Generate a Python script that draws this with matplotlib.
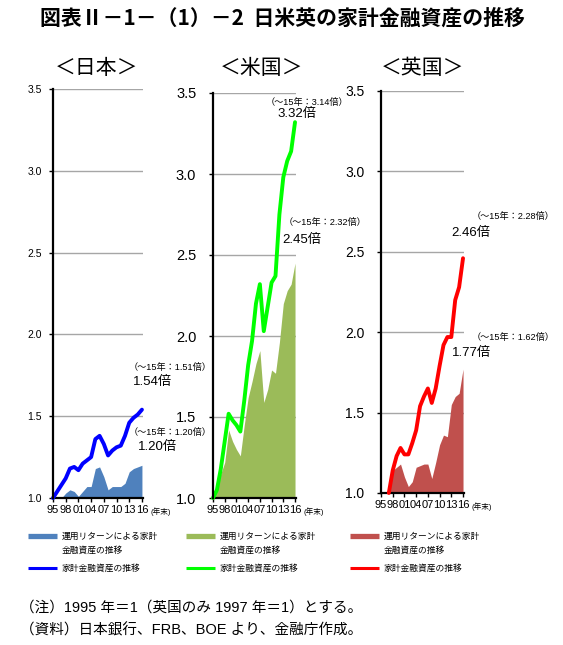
import matplotlib
matplotlib.use("Agg")
import matplotlib.pyplot as plt
from matplotlib.lines import Line2D

plt.rcParams['font.family'] = ['Liberation Sans', 'Noto Sans CJK JP', 'DejaVu Sans']

# ---- data (1995 = 1, UK 1997 = 1) ----
years_jp = list(range(1995, 2017))
jp_total = [1.00, 1.04, 1.08, 1.12, 1.18, 1.19, 1.17, 1.21, 1.23, 1.25, 1.36,
            1.38, 1.33, 1.26, 1.29, 1.31, 1.32, 1.38, 1.46, 1.49, 1.51, 1.54]
jp_return = [1.00, 1.00, 1.00, 1.03, 1.05, 1.04, 1.01, 1.04, 1.07, 1.07, 1.18,
             1.19, 1.13, 1.05, 1.07, 1.07, 1.07, 1.09, 1.16, 1.18, 1.19, 1.20]

years_us = list(range(1995, 2017))
us_total = [1.00, 1.05, 1.18, 1.35, 1.52, 1.48, 1.45, 1.41, 1.60, 1.82, 1.97,
            2.20, 2.32, 2.03, 2.18, 2.33, 2.37, 2.75, 2.98, 3.08, 3.14, 3.32]
us_return = [1.00, 1.06, 1.15, 1.22, 1.42, 1.35, 1.30, 1.26, 1.45, 1.62, 1.72,
             1.83, 1.91, 1.59, 1.67, 1.79, 1.77, 1.96, 2.20, 2.28, 2.32, 2.45]

years_uk = list(range(1997, 2017))
uk_total = [1.00, 1.14, 1.23, 1.28, 1.24, 1.24, 1.31, 1.39, 1.54, 1.60,
            1.65, 1.56, 1.65, 1.79, 1.92, 1.97, 1.97, 2.20, 2.28, 2.46]
uk_return = [1.00, 1.14, 1.16, 1.18, 1.10, 1.04, 1.07, 1.16, 1.17, 1.18,
             1.18, 1.09, 1.19, 1.30, 1.36, 1.35, 1.55, 1.60, 1.62, 1.77]

tick_years = [1995, 1998, 2001, 2004, 2007, 2010, 2013, 2016]
tick_labels = ["95", "98", "01", "04", "07", "10", "13", "16"]

panels = [
    # name, years, total, return, area colour, line colour
    ("＜日本＞", years_jp, jp_total, jp_return, "#4F81BD", "#0000FF"),
    ("＜米国＞", years_us, us_total, us_return, "#9BBB59", "#00FF00"),
    ("＜英国＞", years_uk, uk_total, uk_return, "#C0504D", "#FF0000"),
]

W, H = 563, 645
fig = plt.figure(figsize=(W / 100, H / 100), dpi=100)


def fx(px):
    return px / W


def fy(py):
    return 1 - py / H


# axes boxes in pixels: left, right, top, bottom
boxes = [(53, 143, 89, 498), (213, 296, 93, 498), (381, 464, 91, 493)]
ylab_size = [7.5, 10.5, 10]
ylab_pad = [5, 9, 9]
title_x = [97, 262, 423]

axes = []
for (name, yrs, tot, ret, c_area, c_line), (l, r, t, b), ys, yp, tx in zip(
        panels, boxes, ylab_size, ylab_pad, title_x):
    ax = fig.add_axes([fx(l), fy(b), (r - l) / W, (b - t) / H])
    ax.fill_between(yrs, 1.0, ret, color=c_area, lw=0, zorder=2)
    ax.plot(yrs, tot, color=c_line, lw=2.8, zorder=3, clip_on=False,
            solid_joinstyle="round", solid_capstyle="round")
    ax.set_xlim(1995, 2016.25)
    ax.set_ylim(1.0, 3.5)
    ax.set_yticks([1.0, 1.5, 2.0, 2.5, 3.0, 3.5])
    ax.set_yticklabels(["1.0", "1.5", "2.0", "2.5", "3.0", "3.5"])
    ax.yaxis.grid(True, color="#A6A6A6", lw=1.0, zorder=1)
    ax.set_axisbelow(True)
    ax.set_xticks(tick_years)
    ax.set_xticklabels(tick_labels)
    ax.tick_params(axis="x", length=3, width=1, labelsize=8, pad=2)
    ax.tick_params(axis="y", length=3, width=1, labelsize=ys, pad=yp)
    for s in ("top", "right"):
        ax.spines[s].set_visible(False)
    ax.spines["left"].set_linewidth(1.6)
    ax.spines["bottom"].set_linewidth(1.6)
    ax.spines["left"].set_zorder(4)
    ax.annotate("(年末)", xy=(1, 0), xycoords="axes fraction",
                xytext=(5.5, -10), textcoords="offset points",
                fontsize=5.5, ha="left", va="center")
    fig.text(fx(tx), fy(68), name, ha="center", va="center", fontsize=15,
             family="Noto Sans CJK JP")
    axes.append(ax)

small = 6.6
big = 9.5
ax_jp, ax_us, ax_uk = axes
ax_jp.text(2012.9, 1.80, "（～15年：1.51倍）", fontsize=small, va="center", clip_on=False)
ax_jp.text(2013.9, 1.71, "1.54倍", fontsize=big, va="center", clip_on=False)
ax_jp.text(2012.9, 1.40, "（～15年：1.20倍）", fontsize=small, va="center", clip_on=False)
ax_jp.text(2015.0, 1.31, "1.20倍", fontsize=big, va="center", clip_on=False)

ax_us.text(2008.6, 3.44, "（～15年：3.14倍）", fontsize=small, va="center", clip_on=False)
ax_us.text(2011.4, 3.37, "3.32倍", fontsize=big, va="center", clip_on=False)
ax_us.text(2013.2, 2.70, "（～15年：2.32倍）", fontsize=small, va="center", clip_on=False)
ax_us.text(2012.7, 2.59, "2.45倍", fontsize=big, va="center", clip_on=False)

ax_uk.text(2018.2, 2.72, "（～15年：2.28倍）", fontsize=small, va="center", clip_on=False)
ax_uk.text(2013.1, 2.62, "2.46倍", fontsize=big, va="center", clip_on=False)
ax_uk.text(2018.2, 1.965, "（～15年：1.62倍）", fontsize=small, va="center", clip_on=False)
ax_uk.text(2013.1, 1.87, "1.77倍", fontsize=big, va="center", clip_on=False)

# title
fig.text(fx(40), fy(18), "図表Ⅱ－1－（1）－2  日米英の家計金融資産の推移",
         ha="left", va="center", fontsize=15, family="Noto Sans CJK JP",
         fontweight="bold")

# legends
leg_x = [28, 186, 350]
for (name, yrs, tot, ret, c_area, c_line), lx in zip(panels, leg_x):
    fig.add_artist(Line2D([fx(lx), fx(lx + 29)], [fy(536), fy(536)],
                          color=c_area, lw=3.8, solid_capstyle="butt"))
    fig.text(fx(lx + 34), fy(536), "運用リターンによる家計", fontsize=6.3,
             va="center", family="Noto Sans CJK JP")
    fig.text(fx(lx + 34), fy(550), "金融資産の推移", fontsize=6.3,
             va="center", family="Noto Sans CJK JP")
    fig.add_artist(Line2D([fx(lx), fx(lx + 29)], [fy(568), fy(568)],
                          color=c_line, lw=2.2, solid_capstyle="butt"))
    fig.text(fx(lx + 34), fy(568), "家計金融資産の推移", fontsize=6.3,
             va="center", family="Noto Sans CJK JP")

fig.text(fx(20), fy(608), "（注）1995 年＝1（英国のみ 1997 年＝1）とする。",
         fontsize=10.5, va="center")
fig.text(fx(20), fy(630), "（資料）日本銀行、FRB、BOE より、金融庁作成。",
         fontsize=10.5, va="center")

fig.savefig("out.png", dpi=100)
